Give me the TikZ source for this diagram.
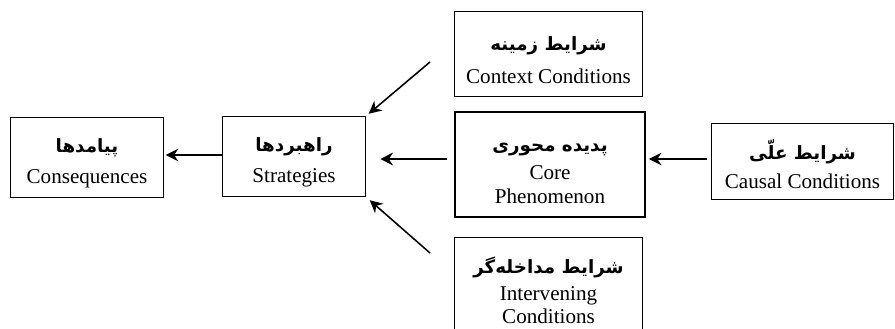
\documentclass[tikz,border=0pt]{standalone}
\usepackage{fontspec}
\setmainfont{Liberation Serif}
\newfontfamily\fafont[Script=Arabic]{DejaVu Sans}
\TeXXeTstate=1
\usetikzlibrary{arrows.meta,positioning}
\newcommand{\fa}[1]{{\fafont\bfseries\fontsize{13}{15}\selectfont\rule{0pt}{18pt}\beginR #1\endR}}

\begin{document}
\begin{tikzpicture}[
    x=0.025cm, y=-0.025cm,
    concept/.style={rectangle, draw, line width=0.7pt, align=center, inner sep=0pt,
                    font=\fontsize{15}{16.5}\selectfont},
    core/.style={concept, line width=1.4pt},
    arrow/.style={-{Stealth[length=9pt,width=9pt]}, line width=1.1pt}
]
\useasboundingbox (0,0) rectangle (895,329);

% Concepts
\node[concept, minimum width=3.8cm, minimum height=1.975cm] (cons) at (87,157.5)
    {\fa{پیامدها}\\[6pt] Consequences};
\node[concept, minimum width=3.55cm, minimum height=1.975cm] (strat) at (294,156.5)
    {\fa{راهبردها}\\[6pt] Strategies};
\node[core, minimum width=4.75cm, minimum height=2.625cm] (core) at (550,164.5)
    {\fa{پدیده محوری}\\[4pt] Core\\ Phenomenon};
\node[concept, minimum width=4.525cm, minimum height=1.875cm] (causal) at (802.5,161.5)
    {\fa{شرایط علّی}\\[4pt] Causal Conditions};
\node[concept, minimum width=4.675cm, minimum height=2.1cm] (context) at (548.5,54)
    {\fa{شرایط زمینه}\\[7pt] Context Conditions};
\node[concept, minimum width=4.675cm, minimum height=2.4cm] (interv) at (548.5,286)
    {\fa{شرایط مداخله‌گر}\\[3pt] Intervening\\ Conditions};

% Free tails of the slanted arrows
\coordinate (ctxtail) at (430,62);
\coordinate (invtail) at (430,253);

% Arrows
\draw[arrow, shorten >=1.5pt] (strat.west |- 0,155) -- (cons.east |- 0,155);
\draw[arrow, shorten <=5pt, shorten >=10.5pt] (core.west |- 0,159) -- (strat.east |- 0,159);
\draw[arrow, shorten <=3.5pt, shorten >=2pt] (causal.west |- 0,159) -- (core.east |- 0,159);
\draw[arrow, shorten >=3pt] (ctxtail) -- (strat.north east);
\draw[arrow, shorten >=4pt] (invtail) -- (strat.south east);

\end{tikzpicture}
\end{document}
